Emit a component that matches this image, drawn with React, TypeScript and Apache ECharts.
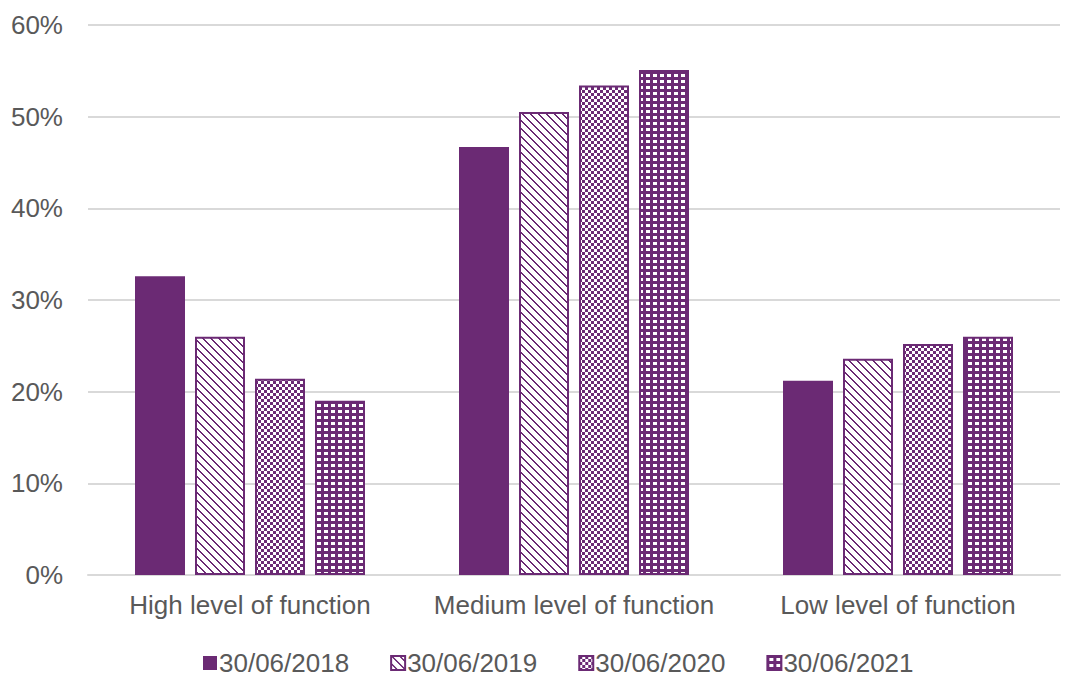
import React, { useEffect, useRef } from "react";
import * as echarts from "echarts";

const categories = ["High level of function", "Medium level of function", "Low level of function"];
const seriesNames = ["30/06/2018", "30/06/2019", "30/06/2020", "30/06/2021"];
const v2018 = [32.6, 46.7, 21.2];
const v2019 = [26.0, 50.5, 23.6];
const v2020 = [21.4, 53.4, 25.2];
const v2021 = [19.0, 55.1, 26.0];
const yTicks = [0, 10, 20, 30, 40, 50, 60];

const PURPLE = "#6B2A74";

function makeTile(w: number, h: number, draw: (ctx: CanvasRenderingContext2D) => void) {
  const c = document.createElement("canvas");
  c.width = w;
  c.height = h;
  const ctx = c.getContext("2d")!;
  draw(ctx);
  return c;
}

export default function App() {
  const ref = useRef<HTMLDivElement>(null);
  useEffect(() => {
    if (!ref.current) return;
    const chart = echarts.init(ref.current, undefined, { renderer: "svg" });

    const diag = makeTile(8, 8, (ctx) => {
      ctx.fillStyle = "#ffffff";
      ctx.fillRect(0, 0, 8, 8);
      ctx.fillStyle = PURPLE;
      for (let y = 0; y < 8; y++) {
        for (let x = 0; x < 8; x++) {
          const d = (((x - y) % 8) + 8) % 8;
          if (d === 0 || d === 1) ctx.fillRect(x, y, 1, 1);
        }
      }
    });
    const checker = makeTile(6, 6, (ctx) => {
      ctx.fillStyle = "#ffffff";
      ctx.fillRect(0, 0, 6, 6);
      ctx.fillStyle = PURPLE;
      ctx.fillRect(0, 0, 3, 3);
      ctx.fillRect(3, 3, 3, 3);
    });
    const dots = makeTile(7, 6, (ctx) => {
      ctx.fillStyle = PURPLE;
      ctx.fillRect(0, 0, 7, 6);
      ctx.fillStyle = "#ffffff";
      ctx.fillRect(2, 2, 4, 3);
    });

    const fills: any[] = [
      PURPLE,
      { image: diag, repeat: "repeat" },
      { image: checker, repeat: "repeat" },
      { image: dots, repeat: "repeat" },
    ];
    const data = [v2018, v2019, v2020, v2021];

    const font = "Liberation Sans";
    chart.setOption({
      animation: false,
      grid: { left: 88, right: 7, top: 25, bottom: 105, containLabel: false },
      legend: {
        top: 648,
        left: 198,
        padding: [0, 5, 0, 5],
        itemWidth: 14,
        itemHeight: 14,
        itemGap: 41,
        icon: "rect",
        textStyle: { fontFamily: font, fontSize: 26, lineHeight: 30, color: "#595959", padding: [0, 0, 0, -3] },
        data: seriesNames,
      },
      xAxis: {
        type: "category",
        data: categories,
        axisTick: { show: false },
        axisLine: { lineStyle: { color: "#D9D9D9", width: 2 } },
        axisLabel: { fontFamily: font, fontSize: 26, color: "#595959", margin: 17, interval: 0 },
      },
      yAxis: {
        type: "value",
        min: 0,
        max: 60,
        interval: 10,
        axisLine: { show: false },
        axisTick: { show: false },
        splitLine: { lineStyle: { color: "#D9D9D9", width: 2 } },
        axisLabel: {
          fontFamily: font,
          fontSize: 26,
          color: "#595959",
          margin: 25,
          formatter: (v: number) => (yTicks.includes(v) ? v + "%" : ""),
        },
      },
      series: seriesNames.map((name, i) => ({
        name,
        type: "bar",
        data: data[i],
        barWidth: 50,
        barGap: "20%",
        itemStyle: {
          color: fills[i],
          borderColor: PURPLE,
          borderWidth: i === 0 ? 0 : 2,
        },
      })),
    });
    return () => chart.dispose();
  }, []);
  return <div ref={ref} style={{ width: 1067, height: 680, position: "absolute", left: 0, top: 0 }} />;
}
